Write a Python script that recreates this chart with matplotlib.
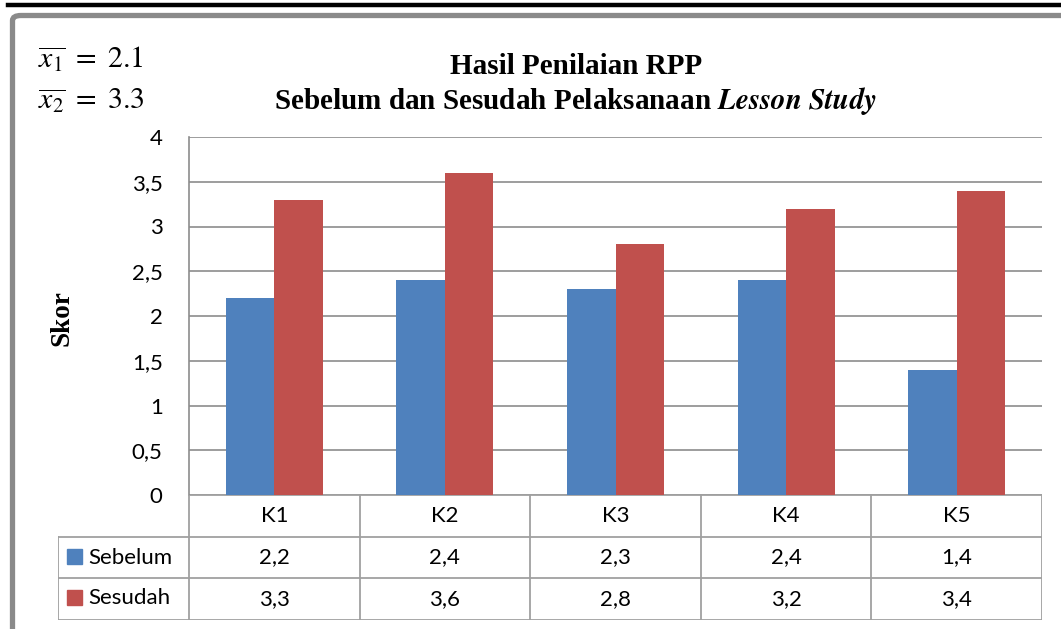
import numpy as np
import matplotlib
matplotlib.use("Agg")
import matplotlib.pyplot as plt
from matplotlib.patches import Rectangle, FancyBboxPatch
from matplotlib.lines import Line2D

categories = ["K1", "K2", "K3", "K4", "K5"]
sebelum = [2.2, 2.4, 2.3, 2.4, 1.4]
sesudah = [3.3, 3.6, 2.8, 3.2, 3.4]
series_names = ["Sebelum", "Sesudah"]
yticks = [0, 0.5, 1, 1.5, 2, 2.5, 3, 3.5, 4]
ytick_labels = ["0", "0,5", "1", "1,5", "2", "2,5", "3", "3,5", "4"]
mean_labels = [r"$\overline{x_1}\ =\ 2.1$", r"$\overline{x_2}\ =\ 3.3$"]

BLUE = "#4F81BD"
RED = "#C0504D"
GRID = "#8C8C8C"
TAB = "#A0A0A0"

W, H = 1061, 629
fig = plt.figure(figsize=(W / 100, H / 100), dpi=100)
plt.rcParams["mathtext.fontset"] = "stix"

def fx(px):
    return px / W

def fy(py):
    return 1 - py / H

# page decorations
fig.add_artist(Line2D([fx(8), fx(1061)], [fy(5), fy(5)], color="black", lw=3.2,
                      transform=fig.transFigure))
frame = FancyBboxPatch((fx(12.5), fy(700)), fx(1100), fy(15.5) - fy(700),
                       boxstyle="round,pad=0,rounding_size=0.008",
                       transform=fig.transFigure, fill=False, ec="#8A8A8A", lw=3.8)
fig.add_artist(frame)

# main axes
left, right, top, zero = 189, 1042, 137, 495
ax = fig.add_axes([fx(left), fy(zero), fx(right - left), fy(top) - fy(zero)])
x = np.arange(len(categories))
bw = 0.284
ax.bar(x - bw / 2, sebelum, bw, color=BLUE, ec="none", zorder=3)
ax.bar(x + bw / 2, sesudah, bw, color=RED, ec="none", zorder=3)
ax.set_xlim(-0.5, len(categories) - 0.5)
ax.set_ylim(0, 4)
ax.set_yticks(yticks)
ax.set_yticklabels(ytick_labels, fontfamily="Lato", fontsize=16)
ax.tick_params(axis="y", length=0, pad=19)
ax.set_xticks([])
ax.grid(axis="y", color=GRID, lw=1.2, zorder=0)
for s in ["top", "right", "bottom"]:
    ax.spines[s].set_visible(False)
ax.spines["left"].set_color(GRID)
ax.spines["left"].set_linewidth(1.2)

# data table
tleft = 58
tab = fig.add_axes([fx(tleft), fy(620), fx(right - tleft), fy(495) - fy(620)])
xl0 = -0.5 - (left - tleft) / ((right - left) / len(categories))
tab.set_xlim(xl0, len(categories) - 0.5)
tab.set_ylim(3, 0)
tab.axis("off")
lk = dict(color=TAB, lw=1.3, solid_capstyle="projecting")
for i in range(len(categories) + 1):
    tab.plot([i - 0.5, i - 0.5], [0, 3], **lk)
tab.plot([xl0, xl0], [1, 3], **lk)
tab.plot([-0.5, len(categories) - 0.5], [0, 0], **lk)
for r in (1, 2, 3):
    tab.plot([xl0, len(categories) - 0.5], [r, r], **lk)
tfont = dict(fontfamily="Lato", fontsize=16, ha="center", va="center")
for i, c in enumerate(categories):
    tab.text(i, 0.5, c, **tfont)
    tab.text(i, 1.5, f"{sebelum[i]:.1f}".replace(".", ","), **tfont)
    tab.text(i, 2.5, f"{sesudah[i]:.1f}".replace(".", ","), **tfont)
for r, (name, col) in enumerate(zip(series_names, [BLUE, RED])):
    fig.add_artist(Rectangle((fx(67), fy(564 + r * 40.5)), fx(15), fy(549) - fy(564),
                             transform=fig.transFigure, color=col))
    fig.text(fx(88), fy(558 + r * 40.5), name, fontfamily="Lato", fontsize=16,
             ha="left", va="center")

# titles
fig.text(fx(576), fy(67), "Hasil Penilaian RPP", fontfamily="Liberation Serif",
         fontweight="bold", fontsize=21, ha="center", va="center")
fig.text(fx(576), fy(101), r"Sebelum dan Sesudah Pelaksanaan $\mathbfit{Lesson\ Study}$",
         fontfamily="Liberation Serif", fontweight="bold", fontsize=21,
         ha="center", va="center")
fig.text(fx(62), fy(318), "Skor", fontfamily="Liberation Serif", fontweight="bold",
         fontsize=19.5, rotation=90, ha="center", va="center")
for i, m in enumerate(mean_labels):
    fig.text(fx(38), fy(59 + i * 42), m, fontsize=21.5, ha="left", va="center")

fig.savefig("out.png", dpi=100)
